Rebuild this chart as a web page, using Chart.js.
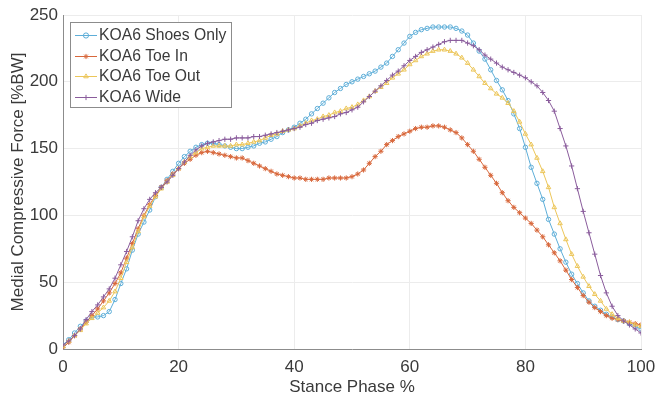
<!DOCTYPE html>
<html><head><meta charset="utf-8">
<script src="https://cdn.jsdelivr.net/npm/chart.js@4/dist/chart.umd.min.js"></script>
<style>html,body{margin:0;padding:0;background:#fff}#wrap{width:656px;height:398px;position:relative}</style>
</head><body><div id="wrap"><canvas id="c" width="656" height="398"></canvas></div>
<script>
const stancePhase = [0,1,2,3,4,5,6,7,8,9,10,11,12,13,14,15,16,17,18,19,20,21,22,23,24,25,26,27,28,29,30,31,32,33,34,35,36,37,38,39,40,41,42,43,44,45,46,47,48,49,50,51,52,53,54,55,56,57,58,59,60,61,62,63,64,65,66,67,68,69,70,71,72,73,74,75,76,77,78,79,80,81,82,83,84,85,86,87,88,89,90,91,92,93,94,95,96,97,98,99,100];
const seriesNames = ['KOA6 Shoes Only','KOA6 Toe In','KOA6 Toe Out','KOA6 Wide'];
const shoesOnly = [3,7,12,17,21,24,24,25,28,37,49,60,74,86,95,104,114,121,127,133,139,144,148,151,153,154,154,153,152,151,150,150,151,152,154,155,157,159,162,164,166,169,172,176,180,184,188,192,195,198,200,202,204,206,208,211,214,219,224,229,234,237,239,240,241,241,241,241,240,238,235,229,223,217,209,201,194,186,176,165,151,136,124,112,97,86,75,65,56,49,42,36,32,29,26,24,22,21,19,17,15];
const toeIn = [1,5,10,15,20,25,30,36,42,49,57,68,79,90,100,108,115,121,126,131,135,139,142,145,147,148,147,146,145,144,143,143,141,139,137,135,133,131,130,129,128,128,127,127,127,127,128,128,128,128,129,131,134,139,144,148,153,156,159,161,163,165,166,166,167,167,166,164,162,158,153,148,142,136,130,124,117,111,106,102,98,94,89,84,78,72,66,59,52,46,40,35,31,28,25,23,22,21,20,19,18];
const toeOut = [2,6,10,14,19,23,27,31,36,43,53,65,76,88,99,107,114,120,125,130,135,140,144,147,150,151,152,152,152,152,153,153,154,155,156,158,160,161,163,164,165,167,169,171,172,174,175,177,178,180,181,183,186,189,193,196,199,203,206,209,213,216,219,221,223,224,224,223,221,218,214,209,204,199,195,191,188,184,178,170,161,153,143,133,121,106,94,82,71,62,54,47,41,36,30,26,23,21,20,18,17];
const wide = [3,6,10,15,22,28,33,39,45,53,63,73,84,96,105,112,117,121,125,130,135,140,145,149,152,154,155,156,157,157,158,158,158,159,159,160,161,162,163,164,165,166,168,169,171,172,173,174,176,177,179,181,185,189,193,197,201,205,208,212,216,219,222,224,226,228,230,231,231,231,229,227,224,220,217,214,211,209,207,205,203,200,197,192,186,178,165,152,137,120,103,87,71,55,42,32,25,21,18,15,12];
const xTicks = [0,20,40,60,80,100];
const yTicks = [0,50,100,150,200,250];

const colors = ['#5eaed8','#d8683c','#ecc65a','#8a5c9c'];
const markers = ['circle','star','triangle','cross'];
const values = [shoesOnly, toeIn, toeOut, wide];
const FONT = '"Liberation Sans", Arial, Helvetica, sans-serif';
const TXT = '#3a3a3a';

const datasets = values.map((vals, i) => ({
  label: seriesNames[i],
  data: stancePhase.map((x, k) => ({x: x, y: vals[k]})),
  borderColor: colors[i],
  backgroundColor: 'rgba(0,0,0,0)',
  pointBorderColor: colors[i],
  pointBackgroundColor: 'rgba(0,0,0,0)',
  pointStyle: markers[i],
  pointRadius: i === 0 ? 2.2 : 2.6,
  pointBorderWidth: 1,
  borderWidth: 1,
  tension: 0,
  order: 3 - i
}));

const legendPlugin = {
  id: 'insideLegend',
  afterDatasetsDraw(chart) {
    const ctx = chart.ctx;
    const bx = 70, by = 22, bw = 161, bh = 85;
    ctx.save();
    ctx.fillStyle = '#fff';
    ctx.fillRect(bx, by, bw, bh);
    ctx.strokeStyle = '#8c8c8c';
    ctx.lineWidth = 1;
    ctx.strokeRect(bx + 0.5, by + 0.5, bw, bh);
    ctx.font = '15.7px ' + FONT;
    ctx.textBaseline = 'middle';
    ctx.textAlign = 'left';
    const rows = [35, 56, 76, 97];
    seriesNames.forEach((name, i) => {
      const y = rows[i];
      ctx.strokeStyle = colors[i];
      ctx.fillStyle = 'rgba(0,0,0,0)';
      ctx.lineWidth = 1;
      ctx.beginPath(); ctx.moveTo(75, y + 0.5); ctx.lineTo(97, y + 0.5); ctx.stroke();
      Chart.helpers.drawPoint(ctx, {pointStyle: markers[i], radius: 2.6, borderWidth: 1, rotation: 0}, 86, y + 0.5);
      ctx.fillStyle = TXT;
      ctx.fillText(name, 99, y + 1);
    });
    ctx.restore();
  }
};

new Chart(document.getElementById('c'), {
  type: 'line',
  data: { datasets },
  plugins: [legendPlugin],
  options: {
    responsive: false,
    animation: false,
    devicePixelRatio: 1,
    layout: { padding: { left: 0, right: 15, top: 15, bottom: 0 } },
    plugins: { legend: { display: false }, tooltip: { enabled: false } },
    scales: {
      x: {
        type: 'linear', min: 0, max: 100,
        afterBuildTicks(s) { s.ticks = xTicks.map(v => ({value: v})); },
        afterFit(s) { s.height = 49; s.paddingRight = 0; s.paddingLeft = 0; },
        grid: { color: '#ececec', drawTicks: false },
        border: { color: '#8c8c8c' },
        ticks: { font: { size: 17, family: FONT }, color: TXT, padding: 8, maxRotation: 0 },
        title: { display: true, text: 'Stance Phase %', font: { size: 17, family: FONT }, color: TXT, padding: { top: 0, bottom: 0 } }
      },
      y: {
        min: 0, max: 250,
        afterBuildTicks(s) { s.ticks = yTicks.map(v => ({value: v})); },
        afterFit(s) { s.width = 63; s.paddingTop = 0; s.paddingBottom = 0; },
        grid: { color: '#ececec', drawTicks: false },
        border: { color: '#8c8c8c' },
        ticks: { font: { size: 17, family: FONT }, color: TXT, padding: 5 },
        title: { display: true, text: 'Medial Compressive Force [%BW]', font: { size: 17, family: FONT }, color: TXT, padding: { top: 8, bottom: 0 } }
      }
    }
  }
});
</script></body></html>
